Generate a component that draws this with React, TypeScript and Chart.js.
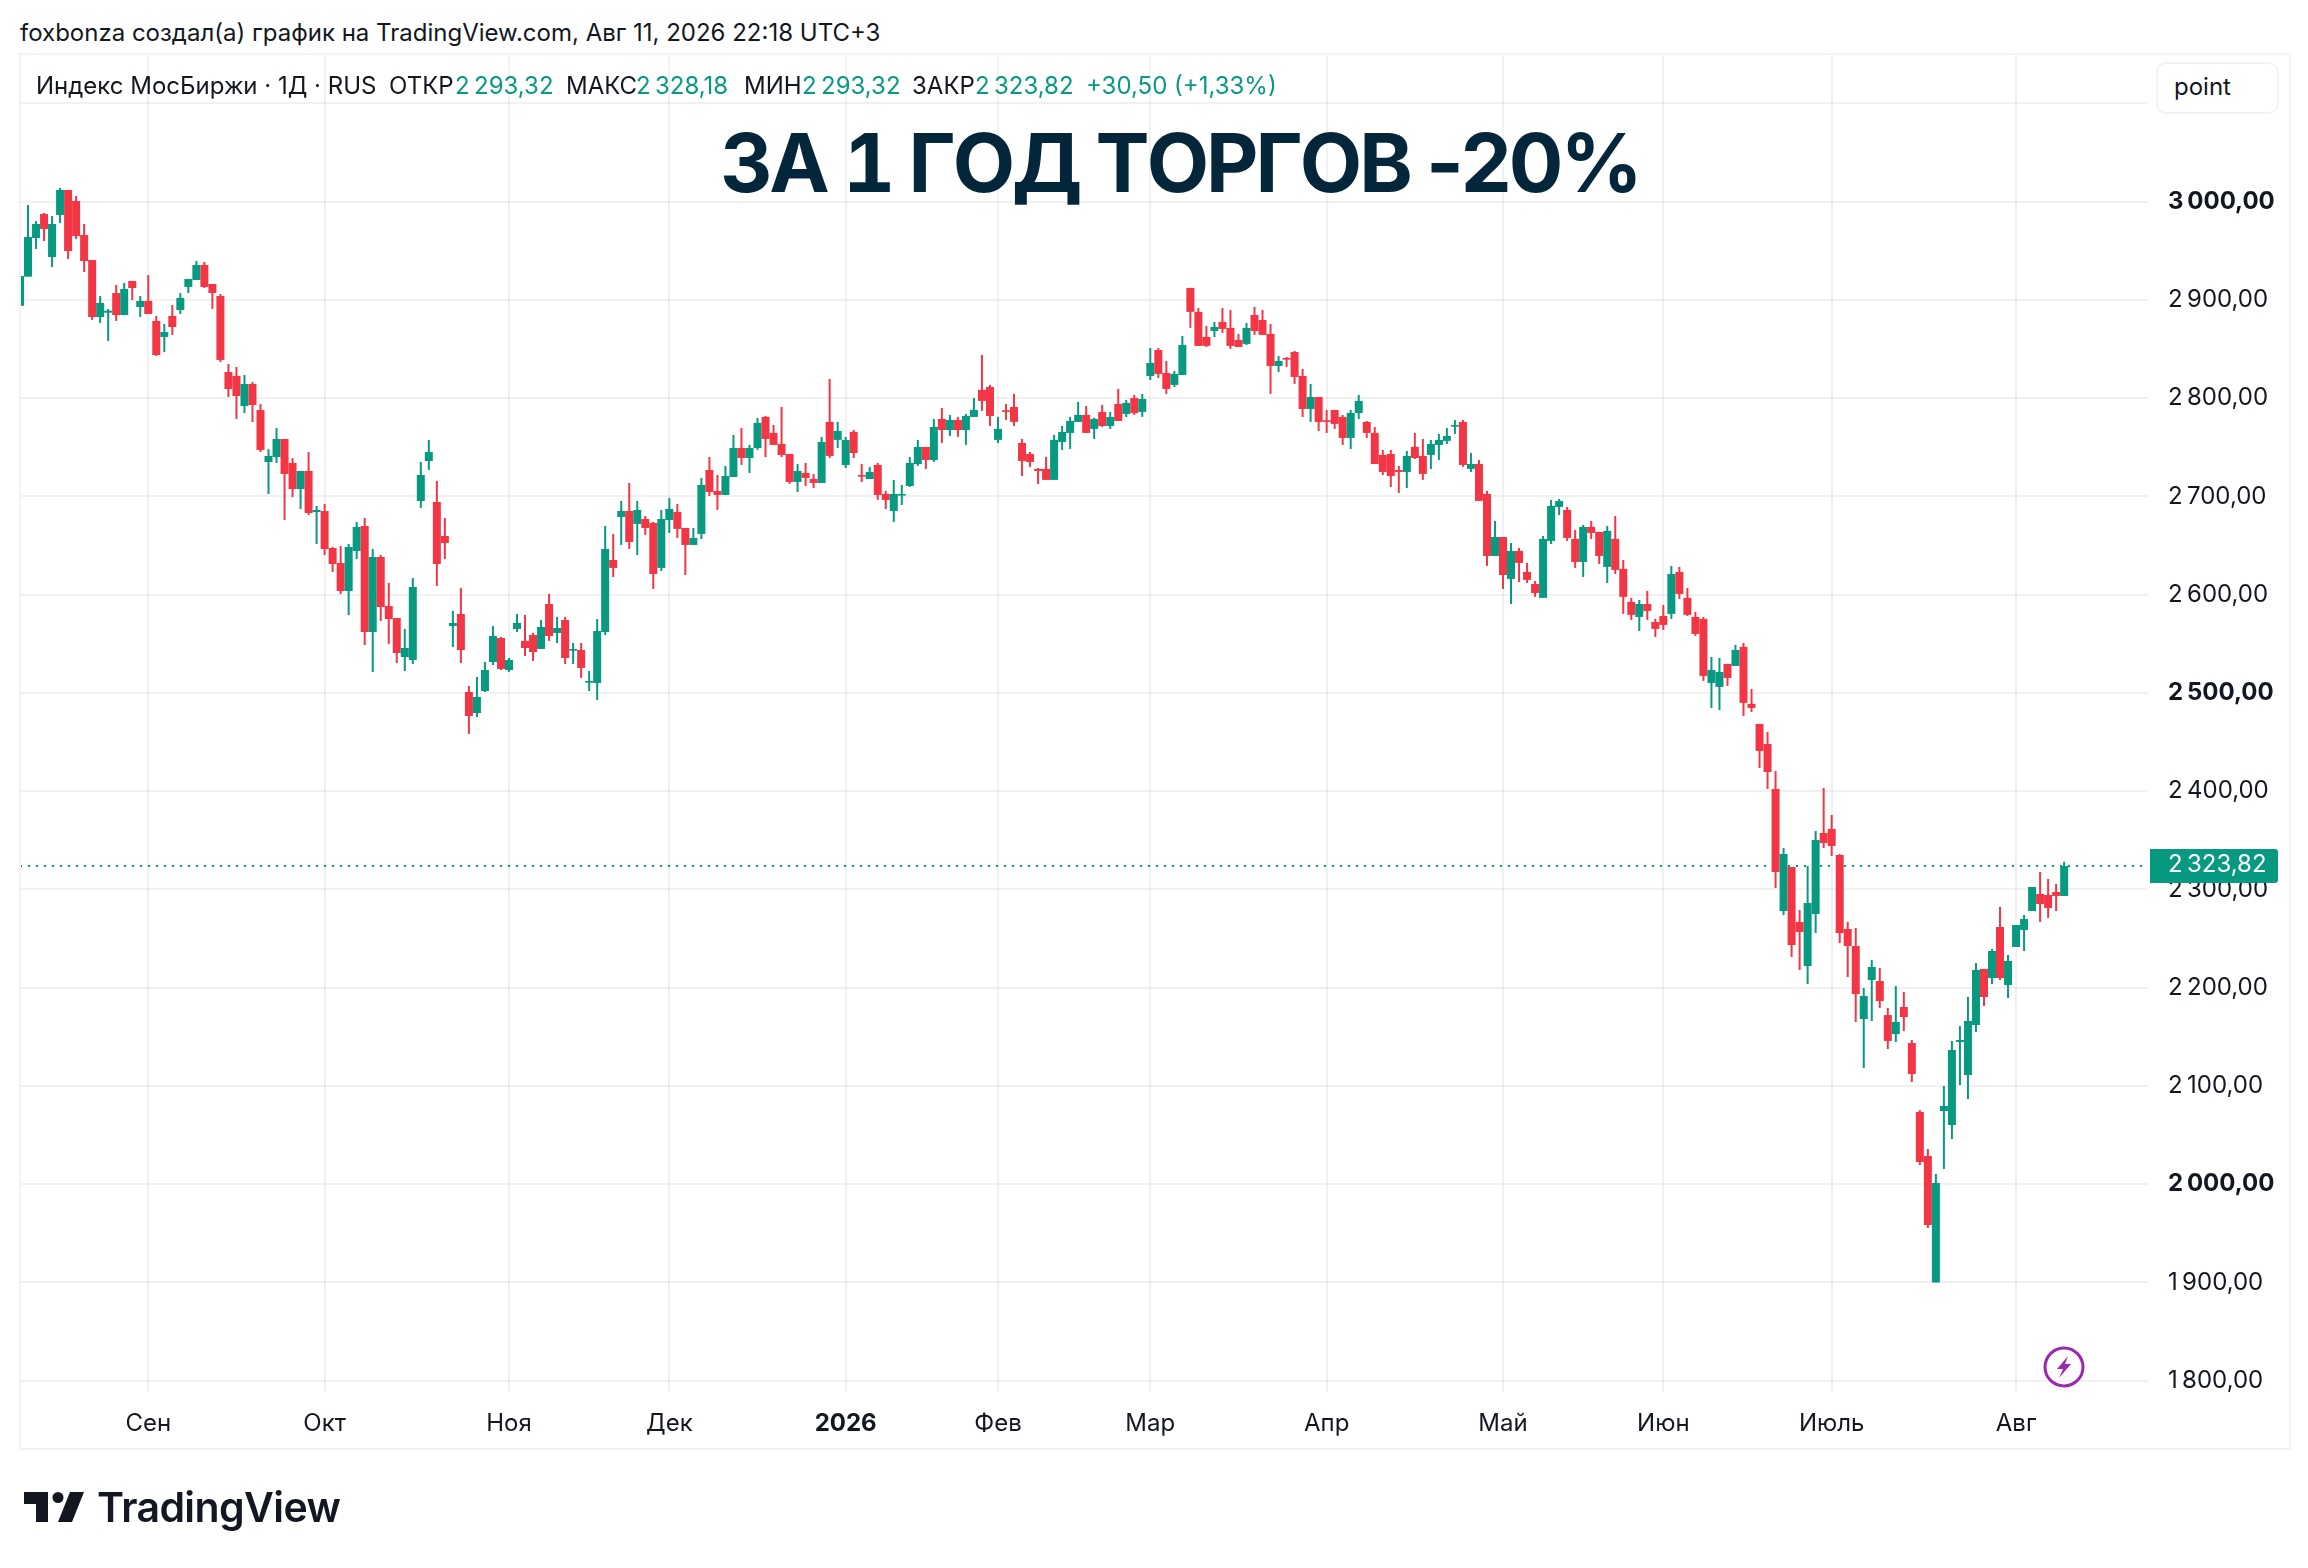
import React, { useEffect, useRef } from "react";
import { Chart, registerables } from "chart.js";

Chart.register(...registerables);

const opens = [
  2894,2923.7,2963,2987.5,2943.7,2986.4,3011.9,3000.7,2966,2940.6,
  2882.6,2887,2907,2884.6,2919.3,2892.8,2898.9,2878.6,2862.3,2883.6,
  2889.7,2913.2,2920.3,2935.6,2916.2,2904,2826.6,2822.6,2792,2814.4,
  2787.9,2735,2740,2758.4,2734,2707.5,2725.9,2684.1,2685.1,2647.5,
  2632.2,2603.7,2644.4,2669.9,2562,2638.3,2588.4,2576.2,2536.5,2533.5,
  2695.3,2736,2694.3,2659.7,2568,2580.3,2500.9,2479.5,2501.9,2531.4,
  2555.9,2523.3,2565,2552.9,2559,2544.7,2590.5,2561,2574.2,2543,
  2543.7,2510.4,2510.1,2562,2635.3,2679.1,2685.2,2672,2677,2673,
  2627.2,2676,2684.2,2667.9,2650.6,2661.8,2726.9,2705.5,2701.5,2719.8,
  2749.3,2739.1,2749.3,2780.9,2764.6,2753.4,2743.2,2714.7,2723.9,2717.8,
  2713.7,2775.8,2757.5,2732,2765.6,2721.8,2717.7,2732,2702.5,2685.2,
  2700.8,2710.6,2733,2750.3,2737.1,2778.8,2767.6,2777.8,2767.6,2780.9,
  2808.4,2811.4,2757.5,2787.7,2791,2754.4,2743.2,2728,2728,2716.8,
  2755.4,2764.6,2775.8,2782.9,2768.7,2786,2771.7,2794.1,2783.9,2800.2,
  2786,2822.6,2849,2825.7,2813.5,2823.6,2912.2,2887.8,2862.3,2868.4,
  2877.6,2871.5,2859.3,2855.2,2884.7,2879.6,2865.4,2832.8,2840.9,2847,
  2822.6,2789,2801.2,2777.5,2788,2780.9,2759.5,2784.9,2775.8,2764.6,
  2742.2,2743.2,2726.9,2724.9,2750.4,2741.2,2742.2,2752.4,2756.5,2771,
  2775.8,2728,2733,2702.5,2639.4,2658.7,2616,2644.5,2623.1,2610.9,
  2596.7,2654.7,2689.3,2686.2,2656.7,2633.3,2668.9,2663.8,2628.2,2656.7,
  2626.2,2592.6,2577.3,2590.5,2572.2,2578.3,2580.4,2623.1,2596.7,2577.3,
  2575.3,2510.1,2506.1,2529.5,2527.4,2546.8,2488.8,2468.4,2448,2402.2,
  2278,2322.8,2266.8,2222,2274.9,2357.4,2361.5,2335,2259.7,2242.4,
  2168,2207.8,2206.7,2172.1,2152.8,2180.3,2143.6,2073.4,2028.6,1899.9,
  2074.4,2060.2,2144.7,2111,2162,2219,2209.8,2261.7,2202.7,2241.4,
  2258.7,2278,2295.3,2294.3,2297.3,2293.32,
];

const closes = [
  2924.4,2964,2977.3,2972.2,2977.3,3011.9,2949.8,2965,2939.6,2882.6,
  2896.9,2889,2884.6,2911.1,2912.1,2898.9,2885.7,2843.9,2867.3,2872.4,
  2902,2921.3,2935.6,2913.2,2907,2838.9,2809.3,2802.2,2814.4,2793,
  2747.2,2741.1,2758.4,2722.8,2707.5,2725.9,2683.1,2686.2,2646.4,2631.2,
  2603.7,2648.5,2668.9,2562,2638.3,2587.4,2575.2,2540.6,2545.7,2607.8,
  2721.8,2745.2,2631.2,2652.6,2571.1,2543.6,2476.5,2495.8,2523.3,2557.9,
  2524.4,2533.5,2571.2,2545.7,2541.6,2567.1,2557.9,2566.1,2535.5,2544.7,
  2525.4,2512.1,2563,2646.5,2627.2,2685.2,2653.6,2686.2,2667.9,2621,
  2677,2687.2,2666.9,2650.6,2657.7,2711.6,2704.5,2701.5,2720.8,2749.3,
  2739.1,2749.3,2774.8,2758.5,2752.4,2742.2,2714.7,2725.9,2718.8,2713.7,
  2755.4,2741.2,2766.6,2757.5,2744.2,2720.1,2724.9,2701.5,2696.4,2702.5,
  2702.5,2734,2750.3,2737.1,2770.7,2767.6,2777.8,2767.6,2781.9,2788,
  2797.2,2781.9,2768.7,2786,2775.8,2736.1,2735,2725.9,2716.8,2757.5,
  2765.6,2776.8,2782.9,2764.6,2778.8,2771.7,2780.9,2776.8,2795.1,2784.9,
  2799.2,2835.9,2824.7,2809.4,2824.7,2854.2,2887.8,2853.2,2853.2,2872.5,
  2870.5,2853.2,2852.1,2871.5,2868.4,2864.4,2832.8,2837.9,2839.2,2821.6,
  2789,2801.2,2775.8,2775.8,2773.8,2759.5,2784.9,2797.2,2764.6,2733,
  2724.9,2720.8,2724.9,2741.2,2739.1,2722.9,2753.4,2757.5,2761.5,2772.7,
  2732,2733,2695.4,2639.4,2658.7,2620,2644.5,2632.3,2615,2601.7,
  2656.7,2690.3,2695.4,2657.7,2633.3,2668.9,2662.8,2639.4,2664.9,2625.2,
  2597.7,2579.4,2590.5,2583.4,2565.1,2569.2,2621.1,2600.7,2579.4,2560,
  2517.3,2523.4,2521.3,2515.2,2543.7,2489.8,2484.7,2440.9,2419.5,2317.7,
  2336,2243.4,2256.6,2286.1,2350.3,2347.2,2344.2,2255.6,2242.4,2193.5,
  2191.5,2221,2186.4,2145.7,2165,2170.1,2112.1,2022.5,1958.4,2001.1,
  2079.5,2136.5,2146.7,2166,2218,2190.5,2237.3,2209.8,2227.1,2263.7,
  2269.8,2302.4,2285.1,2281,2293.32,2323.82,
];

const highs = [
  2927,2996.6,2980.3,2988.5,2985.4,3014,3011.9,3005.8,2977.3,2940.6,
  2904,2890.8,2915.2,2917.2,2919.3,2904,2925.4,2883.6,2875.5,2894.8,
  2907,2921.3,2939.6,2938.6,2916.2,2906,2834.8,2831.7,2823.6,2816.5,
  2794,2748.2,2769.6,2758.4,2739,2725.9,2745.2,2690.2,2692.3,2648.5,
  2649.5,2651.5,2674,2678,2646.5,2640.4,2611.9,2576.2,2565,2617,
  2735,2757.4,2715.7,2678,2583.4,2606.8,2507,2516.2,2531.4,2568,
  2556.9,2535.5,2580.3,2579.3,2561,2574.2,2600.7,2577.3,2577.3,2550.8,
  2550.8,2522.3,2575.2,2669.9,2661.8,2695.3,2713.7,2695.3,2680.1,2674,
  2686.2,2698.4,2692.3,2667.9,2667.9,2718.8,2740.1,2721.8,2731,2762.5,
  2769.7,2752.4,2779.8,2781.9,2772.7,2791,2743.2,2733,2734,2722.8,
  2760.5,2819.5,2775.8,2760.5,2767.6,2733,2730,2734,2705.5,2716.7,
  2711.6,2740.1,2757.5,2750.3,2778.8,2790,2782.9,2780.9,2783.9,2800.2,
  2844,2813.5,2780.9,2794,2804.3,2758.5,2745.3,2729,2740.2,2762.6,
  2771.7,2780.9,2796.2,2792,2779.9,2793.1,2786,2809.4,2798.2,2803.3,
  2804.3,2851.1,2851.1,2837.9,2827.7,2863.3,2912.2,2891.8,2873.5,2877.6,
  2891.8,2889.8,2865.4,2876.6,2892.9,2889.8,2875.5,2843,2842,2848,
  2829.7,2814.5,2801.2,2788,2788,2782.9,2788,2803.3,2776.8,2770.7,
  2747.3,2747.3,2731,2746.3,2764.6,2758.5,2757.5,2763.6,2769.7,2777.8,
  2777.8,2744.2,2737.1,2705.6,2675,2658.7,2652.6,2647.5,2632.3,2613.9,
  2659.8,2696.4,2697.4,2689.3,2665.9,2671,2675,2663.8,2669.9,2680.1,
  2635.3,2596.7,2594.6,2603.8,2575.3,2589.5,2629.2,2628.2,2606.8,2582.4,
  2577.3,2536.6,2535.6,2529.5,2548.8,2550.8,2504,2468.4,2460.2,2420.5,
  2342.1,2322.8,2279,2323.8,2359.4,2403.2,2375.7,2336,2266.8,2260.7,
  2199.6,2228.1,2220,2179.3,2201.6,2195.5,2146.7,2075.4,2035.7,2010.3,
  2099.9,2145.7,2160.9,2190.5,2225,2219,2239.3,2282.1,2233.2,2263.7,
  2273.9,2302.4,2317.7,2310.6,2305.5,2328.18,
];

const lows = [
  2872.8,2923.7,2951.9,2960,2933.5,2978.3,2941.7,2962,2928.4,2879.6,
  2876.5,2858.2,2878.6,2884.6,2899.9,2882.6,2885.7,2842.9,2847,2864.3,
  2885.7,2907,2920.3,2912.1,2890.8,2836.8,2801.2,2778.8,2784.9,2775.7,
  2745.2,2702.4,2734,2676,2699.4,2687.2,2681,2651.5,2640.4,2623,
  2600.6,2579.3,2636.3,2548.7,2521.2,2573.2,2549.8,2530.4,2522.3,2529.4,
  2688.2,2726.9,2608.8,2636.3,2546.7,2530.4,2458.2,2475.4,2500.9,2528.4,
  2523.3,2521.3,2562,2537.6,2532.5,2544.7,2552.9,2550.8,2529.4,2529.4,
  2515.2,2502,2492.8,2559,2618,2650.6,2646.5,2640.4,2660.8,2605.8,
  2624.1,2662.8,2657.7,2620,2650.6,2656.7,2700.4,2686.2,2701.5,2719.8,
  2732,2723.9,2747.3,2740.1,2752.4,2740.1,2712.7,2704.5,2710.6,2708.6,
  2713.7,2739.1,2749.3,2728.9,2739.1,2714.7,2717.7,2696.4,2687.2,2674,
  2691.3,2709.6,2731,2727.9,2735,2754.4,2761.5,2760.5,2752.4,2780.9,
  2787,2771.7,2754.4,2777.8,2771.7,2720.8,2730,2712.7,2716.8,2716.8,
  2747.3,2748.3,2775.8,2764.6,2758.5,2770.7,2768.7,2776.8,2780.9,2782.9,
  2780.9,2818.5,2820.6,2804.3,2811.4,2823.6,2871.5,2853.2,2852.1,2862.3,
  2866.4,2850.1,2852.1,2854.2,2864.4,2864.4,2804.3,2826.7,2831.8,2814.5,
  2780.9,2775.8,2766.6,2764.6,2768.7,2752.4,2748.3,2778.8,2759.5,2733,
  2721.8,2709.6,2703.5,2708.6,2738.1,2716.8,2727.9,2737.1,2753.4,2763.6,
  2730,2724.9,2695.4,2629.2,2639.4,2605.8,2590.5,2612.9,2611.9,2597.7,
  2596.7,2651.6,2681.1,2654.7,2627.2,2618,2656.7,2631.3,2611.9,2621.1,
  2580.4,2574.3,2563,2574.3,2557,2564.1,2575.3,2595.6,2578.3,2558,
  2512.2,2484.7,2482.6,2507.1,2527.4,2476.5,2480.6,2423.6,2402.2,2301.4,
  2273.9,2231.2,2217.9,2203.7,2255.6,2342.1,2334,2245.4,2210.8,2165,
  2118.2,2166,2179.3,2137.5,2144.6,2155.9,2103.9,2019.4,1955.3,1899.9,
  2015.4,2045.9,2100.9,2086.6,2154.8,2181.3,2203.7,2207.8,2189.4,2241.4,
  2237.3,2278,2266.8,2270.9,2278,2293.32,
];

const monthBars = [16, 38, 61, 81, 103, 122, 141, 163, 185, 205, 226, 249];
const monthLabels = ["Сен", "Окт", "Ноя", "Дек", "2026", "Фев", "Мар", "Апр", "Май", "Июн", "Июль", "Авг"];
const priceTicks = [1800, 1900, 2000, 2100, 2200, 2300, 2400, 2500, 2600, 2700, 2800, 2900, 3000, 3100];
const priceLabels = [
  "1\u2009800,00", "1\u2009900,00", "2\u2009000,00", "2\u2009100,00", "2\u2009200,00", "2\u2009300,00", "2\u2009400,00",
  "2\u2009500,00", "2\u2009600,00", "2\u2009700,00", "2\u2009800,00", "2\u2009900,00", "3\u2009000,00", "",
];
const boldPrices = [2000, 2500, 3000];
const lastPrice = 2323.82;
const lastPriceLabel = "2\u2009323,82";

const UP = "#089981";
const DOWN = "#F23645";
const TEXT = "#131722";
const GRID = "rgba(19,23,34,0.06)";
const FONT = "Inter, 'Noto Sans', sans-serif";

const lastPriceTag = {
  id: "lastPriceTag",
  afterDraw(chart: any) {
    const { ctx, chartArea, scales } = chart;
    const y = scales.y.getPixelForValue(lastPrice);
    ctx.save();
    ctx.fillStyle = UP;
    ctx.beginPath();
    ctx.roundRect(chartArea.right + 2, y - 17, 128, 34, [0, 3, 3, 0]);
    ctx.fill();
    ctx.fillStyle = "#ffffff";
    ctx.font = `400 24px ${FONT}`;
    ctx.textBaseline = "middle";
    ctx.textAlign = "left";
    ctx.fillText(lastPriceLabel, chartArea.right + 20, y - 1);
    ctx.restore();
  },
};

const legendParts: { x: number; text: string; color: string }[] = [
  { x: 36, text: "Индекс МосБиржи · 1Д · RUS", color: TEXT },
  { x: 389, text: "ОТКР", color: TEXT },
  { x: 455, text: "2\u2009293,32", color: UP },
  { x: 566, text: "МАКС", color: TEXT },
  { x: 636, text: "2\u2009328,18", color: UP },
  { x: 744, text: "МИН", color: TEXT },
  { x: 802, text: "2\u2009293,32", color: UP },
  { x: 912, text: "ЗАКР", color: TEXT },
  { x: 975, text: "2\u2009323,82", color: UP },
  { x: 1086, text: "+30,50 (+1,33%)", color: UP },
];

const abs = (left: number, top: number): React.CSSProperties => ({
  position: "absolute",
  left,
  top,
  whiteSpace: "nowrap",
  lineHeight: 1,
  fontFamily: FONT,
});

export default function App() {
  const ref = useRef<HTMLCanvasElement>(null);

  useEffect(() => {
    const bars = opens.map((_, i) => i);
    const colors = bars.map((i) => (closes[i] >= opens[i] ? UP : DOWN));
    const chart = new Chart(ref.current as HTMLCanvasElement, {
      type: "bar",
      data: {
        datasets: [
          {
            type: "line",
            label: "Последняя цена",
            data: [
              { x: 0, y: lastPrice },
              { x: 265.46, y: lastPrice },
            ],
            borderColor: UP,
            borderWidth: 2,
            borderDash: [2, 6],
            pointRadius: 0,
            order: 3,
          },
          {
            label: "Тени",
            data: bars.map((i) => ({ x: i, y: [lows[i], highs[i]] })),
            backgroundColor: colors,
            barThickness: 2,
            grouped: false,
            inflateAmount: 0,
            order: 2,
          },
          {
            label: "Тела",
            data: bars.map((i) => ({ x: i, y: [opens[i], closes[i]] })),
            backgroundColor: colors,
            barThickness: 8,
            grouped: false,
            inflateAmount: 0,
            order: 1,
          },
        ] as any,
      },
      plugins: [lastPriceTag],
      options: {
        responsive: false,
        animation: false,
        devicePixelRatio: 1,
        layout: { padding: { left: 20, top: 54, right: 0, bottom: 118 } },
        plugins: { legend: { display: false }, tooltip: { enabled: false } },
        scales: {
          x: {
            type: "linear",
            min: 0,
            max: 265.46,
            offset: false,
            afterBuildTicks(scale: any) {
              scale.ticks = monthBars.map((value) => ({ value }));
            },
            afterFit(scale: any) {
              scale.height = 58;
            },
            grid: { color: GRID, lineWidth: 2, drawTicks: false, offset: false },
            border: { display: false },
            ticks: {
              autoSkip: false,
              maxRotation: 0,
              padding: 17,
              color: TEXT,
              callback: (value: any) => monthLabels[monthBars.indexOf(Number(value))] ?? "",
              font: (ctx: any) => ({
                family: FONT,
                size: 24,
                weight: ctx.tick && ctx.tick.label === "2026" ? "700" : "400",
              }),
            },
          },
          y: {
            type: "linear",
            position: "right",
            min: 1788.4,
            max: 3150.3,
            afterBuildTicks(scale: any) {
              scale.ticks = priceTicks.map((value) => ({ value }));
            },
            afterFit(scale: any) {
              scale.width = 160;
            },
            grid: { color: GRID, lineWidth: 2, drawTicks: false },
            border: { display: false },
            ticks: {
              padding: 20,
              crossAlign: "near",
              color: TEXT,
              callback: (value: any) => priceLabels[priceTicks.indexOf(Number(value))] ?? "",
              font: (ctx: any) => ({
                family: FONT,
                size: 24,
                weight: ctx.tick && boldPrices.includes(ctx.tick.value) ? "700" : "400",
              }),
            },
          },
        },
      } as any,
    });
    return () => chart.destroy();
  }, []);

  return (
    <div style={{ position: "absolute", left: 0, top: 0, width: 2308, height: 1568, overflow: "hidden", background: "#fff" }}>
      <div style={{ ...abs(20, 21), fontSize: 24, color: TEXT }}>
        foxbonza создал(а) график на TradingView.com, Авг 11, 2026 22:18 UTC+3
      </div>
      <canvas ref={ref} width={2308} height={1568} style={{ position: "absolute", left: 0, top: 0, width: 2308, height: 1568 }} />
      <div
        style={{
          position: "absolute",
          left: 19,
          top: 53,
          width: 2268,
          height: 1393,
          border: "2px solid #f2f3f4",
          boxSizing: "content-box",
          pointerEvents: "none",
        }}
      />
      {legendParts.map((p) => (
        <div key={p.x} style={{ ...abs(p.x, 74), fontSize: 24, color: p.color }}>
          {p.text}
        </div>
      ))}
      <div
        style={{
          ...abs(720, 123),
          fontSize: 81,
          fontWeight: 700,
          color: "#03263B",
          letterSpacing: -3,
          fontKerning: "none",
        }}
      >
        ЗА <span style={{ fontVariantNumeric: "tabular-nums" }}>1</span> ГОД ТОРГОВ -20%
      </div>
      <div
        style={{
          position: "absolute",
          left: 2156,
          top: 62,
          width: 123,
          height: 52,
          boxSizing: "border-box",
          border: "2px solid #f2f3f4",
          borderRadius: 10,
          background: "#fff",
          fontFamily: FONT,
          fontSize: 24,
          color: TEXT,
          lineHeight: "46px",
          paddingLeft: 16,
        }}
      >
        point
      </div>
      <svg width={46} height={46} viewBox="0 0 46 46" style={{ position: "absolute", left: 2041, top: 1344 }}>
        <circle cx={23} cy={23} r={19} fill="none" stroke="#9C27B0" strokeWidth={3} />
        <path d="M27 12 L16 25 L22 25 L18 34 L30 20 L24 20 Z" fill="#9C27B0" />
      </svg>
      <svg width={62} height={32} viewBox="0 0 62 32" style={{ position: "absolute", left: 24, top: 1491 }}>
        <path d="M0 1 H24 V31 H12 V13 H0 Z" fill="#131722" />
        <circle cx={34} cy={6.5} r={5.5} fill="#131722" />
        <path d="M46 1 H60 L48 31 H34 Z" fill="#131722" />
      </svg>
      <div style={{ ...abs(97, 1487), fontSize: 41, fontWeight: 600, color: "#131722", letterSpacing: -0.6 }}>TradingView</div>
    </div>
  );
}
